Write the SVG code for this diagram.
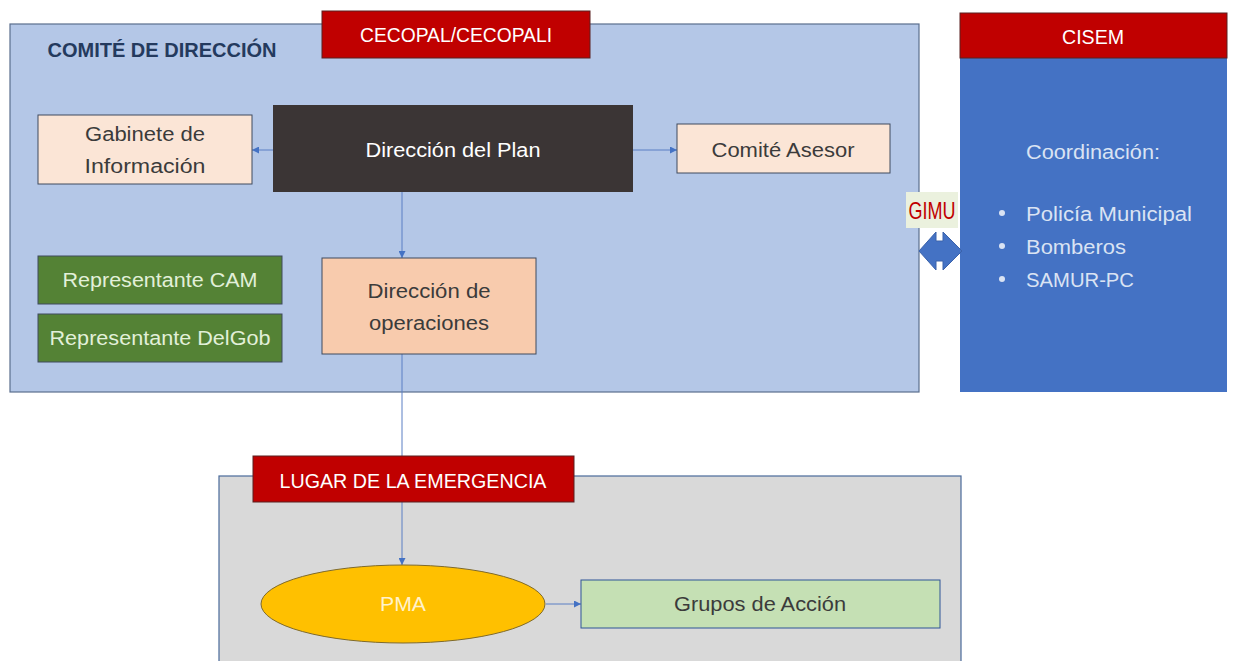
<svg xmlns="http://www.w3.org/2000/svg" width="1233" height="661" viewBox="0 0 1233 661">
<defs>
<style>
text{font-family:"Liberation Sans",Arial,sans-serif;font-size:20px;text-anchor:middle}
.dark{fill:#3b3b3b}
.white{fill:#ffffff}
.light{fill:#e2f0d9}
.cis{fill:#dae3f3;text-anchor:start}
.peach{fill:#fbe5d6;stroke:#3e4a5e;stroke-width:1}
.redbox{fill:#c00000;stroke:#5a2020;stroke-width:1}
.green{fill:#548235;stroke:#3e4a5e;stroke-width:1}
.conn{stroke:#5b7fc4;stroke-width:1;fill:none}
</style>
<marker id="ah" viewBox="0 0 10 10" refX="10" refY="5" markerWidth="7" markerHeight="7" markerUnits="userSpaceOnUse" orient="auto">
<path d="M0,0 L10,5 L0,10 z" fill="#4472c4"/>
</marker>
</defs>
<rect width="1233" height="661" fill="#ffffff"/>

<g id="comite-direccion">
<rect x="10" y="24" width="909" height="368" fill="#b4c7e7" stroke="#5a6e8e" stroke-width="1.2"/>
<text x="162" y="57" style="font-weight:bold;fill:#243a5e;font-size:21px" textLength="229" lengthAdjust="spacingAndGlyphs">COMITÉ DE DIRECCIÓN</text>
</g>

<g id="lugar-emergencia">
<rect x="219" y="476" width="742" height="190" fill="#d9d9d9" stroke="#4a6a9a" stroke-width="1.2"/>
</g>

<g id="cisem">
<rect x="960" y="58" width="267" height="334" fill="#4472c4"/>
<rect x="960" y="13" width="267" height="45" class="redbox"/>
<text x="1093" y="44" class="white" textLength="62" lengthAdjust="spacingAndGlyphs">CISEM</text>
<text x="1026" y="159" class="cis" textLength="134" lengthAdjust="spacingAndGlyphs">Coordinación:</text>
<circle cx="1002" cy="213" r="3" fill="#dae3f3"/>
<text x="1026" y="221" class="cis" textLength="166" lengthAdjust="spacingAndGlyphs">Policía Municipal</text>
<circle cx="1002" cy="246" r="3" fill="#dae3f3"/>
<text x="1026" y="254" class="cis" textLength="100" lengthAdjust="spacingAndGlyphs">Bomberos</text>
<circle cx="1002" cy="279" r="3" fill="#dae3f3"/>
<text x="1026" y="287" class="cis" textLength="108" lengthAdjust="spacingAndGlyphs">SAMUR-PC</text>
</g>

<g id="connectors">
<line x1="273" y1="150" x2="252" y2="150" class="conn" marker-end="url(#ah)"/>
<line x1="633" y1="150" x2="677" y2="150" class="conn" marker-end="url(#ah)"/>
<line x1="402" y1="192" x2="402" y2="258" class="conn" marker-end="url(#ah)"/>
<line x1="402" y1="354" x2="402" y2="565" class="conn" marker-end="url(#ah)"/>
<line x1="546" y1="604" x2="581" y2="604" class="conn" marker-end="url(#ah)"/>
<path d="M919,251 L936,232 L936,241 L943,241 L943,232 L962,251 L943,270 L943,261 L936,261 L936,270 Z" fill="#4472c4" stroke="#3a62ab" stroke-width="1"/>
</g>

<g id="cecopal">
<rect x="322" y="11" width="268" height="47" class="redbox"/>
<text x="456" y="42" class="white" textLength="192" lengthAdjust="spacingAndGlyphs">CECOPAL/CECOPALI</text>
</g>

<g id="gabinete">
<rect x="38" y="115" width="214" height="69" class="peach"/>
<text x="145" y="141" class="dark" textLength="120" lengthAdjust="spacingAndGlyphs">Gabinete de</text>
<text x="145" y="173" class="dark" textLength="121" lengthAdjust="spacingAndGlyphs">Información</text>
</g>

<g id="direccion-plan">
<rect x="273" y="105" width="360" height="87" fill="#3b3535"/>
<text x="453" y="157" class="white" textLength="175" lengthAdjust="spacingAndGlyphs">Dirección del Plan</text>
</g>

<g id="comite-asesor">
<rect x="677" y="124" width="213" height="49" class="peach"/>
<text x="783" y="157" class="dark" textLength="143" lengthAdjust="spacingAndGlyphs">Comité Asesor</text>
</g>

<g id="rep-cam">
<rect x="38" y="256" width="244" height="48" class="green"/>
<text x="160" y="287" class="light" textLength="195" lengthAdjust="spacingAndGlyphs">Representante CAM</text>
</g>

<g id="rep-delgob">
<rect x="38" y="314" width="244" height="48" class="green"/>
<text x="160" y="345" class="light" textLength="221" lengthAdjust="spacingAndGlyphs">Representante DelGob</text>
</g>

<g id="direccion-operaciones">
<rect x="322" y="258" width="214" height="96" fill="#f8cbad" stroke="#3e4a5e" stroke-width="1"/>
<text x="429" y="298" class="dark" textLength="123" lengthAdjust="spacingAndGlyphs">Dirección de</text>
<text x="429" y="330" class="dark" textLength="120" lengthAdjust="spacingAndGlyphs">operaciones</text>
</g>

<g id="gimu">
<rect x="906" y="192" width="52" height="36" fill="#ebf1de"/>
<text x="932" y="219" style="fill:#c00000;font-size:24px" textLength="47" lengthAdjust="spacingAndGlyphs">GIMU</text>
</g>

<g id="lugar-label">
<rect x="253" y="456" width="321" height="46" class="redbox"/>
<text x="413" y="488" class="white" textLength="267" lengthAdjust="spacingAndGlyphs">LUGAR DE LA EMERGENCIA</text>
</g>

<g id="pma">
<ellipse cx="403" cy="604" rx="142" ry="39" fill="#ffc000" stroke="#7f6a2a" stroke-width="1"/>
<text x="403" y="611" style="fill:#fff2cc" textLength="46" lengthAdjust="spacingAndGlyphs">PMA</text>
</g>

<g id="grupos-accion">
<rect x="581" y="580" width="359" height="48" fill="#c5e0b4" stroke="#2f5597" stroke-width="1"/>
<text x="760" y="611" class="dark" textLength="172" lengthAdjust="spacingAndGlyphs">Grupos de Acción</text>
</g>
</svg>
